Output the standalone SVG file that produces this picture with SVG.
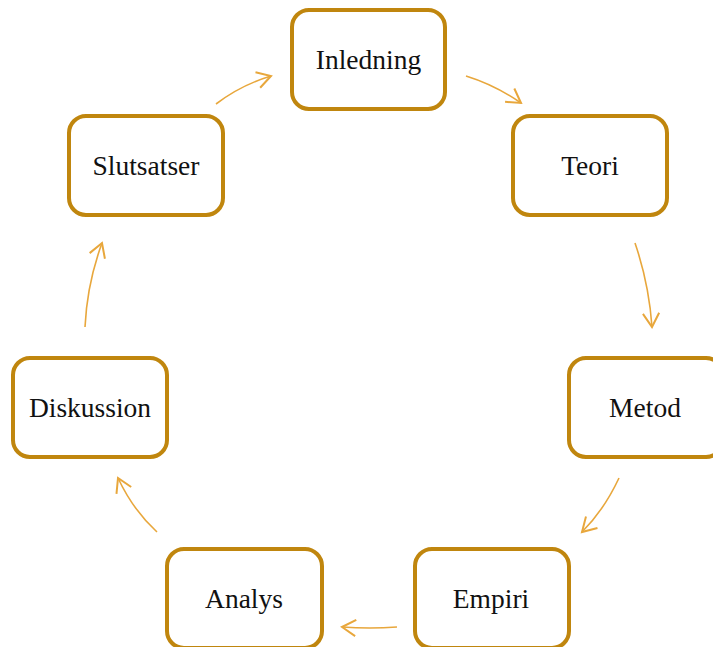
<svg xmlns="http://www.w3.org/2000/svg" width="713" height="647" viewBox="0 0 713 647">
<style>
.box{fill:#fff;stroke:#C0860E;stroke-width:4}
.lbl{font-family:"Liberation Serif","Times New Roman",serif;font-size:27.5px;fill:#111;text-anchor:middle;dominant-baseline:central}
.arr{fill:none;stroke:#E8A73C;stroke-width:1.6;marker-end:url(#ah)}
</style>
<defs>
<marker id="ah" markerUnits="userSpaceOnUse" markerWidth="20" markerHeight="20" refX="0" refY="0" viewBox="-12 -8 14 16" orient="auto">
<path d="M-11,-6.5 L0,0 L-11,6.5" fill="none" stroke="#E8A73C" stroke-width="1.6"/>
</marker>
</defs>
<rect width="713" height="647" fill="#fff"/>
<g id="connectors">
<path class="arr" d="M466,76 Q495,85 521,103"/>
<path class="arr" d="M635,243 Q649,284 652,327"/>
<path class="arr" d="M619,478 Q604,510 582,532"/>
<path class="arr" d="M397,627 Q370,629 342,627"/>
<path class="arr" d="M157,532 Q133,510 118,478"/>
<path class="arr" d="M85,327 Q87,284 102,243"/>
<path class="arr" d="M216,104 Q241,85 271,76"/>
</g>
<g id="inledning"><rect class="box" x="292" y="10" width="153" height="99" rx="17"/><text class="lbl" x="368.5" y="59">Inledning</text></g>
<g id="teori"><rect class="box" x="513" y="116" width="154" height="99" rx="17"/><text class="lbl" x="590" y="165">Teori</text></g>
<g id="metod"><rect class="box" x="569" y="358" width="154" height="99" rx="17"/><text class="lbl" x="645" y="407">Metod</text></g>
<g id="empiri"><rect class="box" x="415" y="549" width="154" height="99" rx="17"/><text class="lbl" x="491" y="598">Empiri</text></g>
<g id="analys"><rect class="box" x="167" y="549" width="155" height="99" rx="17"/><text class="lbl" x="244" y="598">Analys</text></g>
<g id="diskussion"><rect class="box" x="13" y="358" width="154" height="99" rx="17"/><text class="lbl" x="90" y="407">Diskussion</text></g>
<g id="slutsatser"><rect class="box" x="69" y="116" width="154" height="99" rx="17"/><text class="lbl" x="146" y="165">Slutsatser</text></g>
</svg>
